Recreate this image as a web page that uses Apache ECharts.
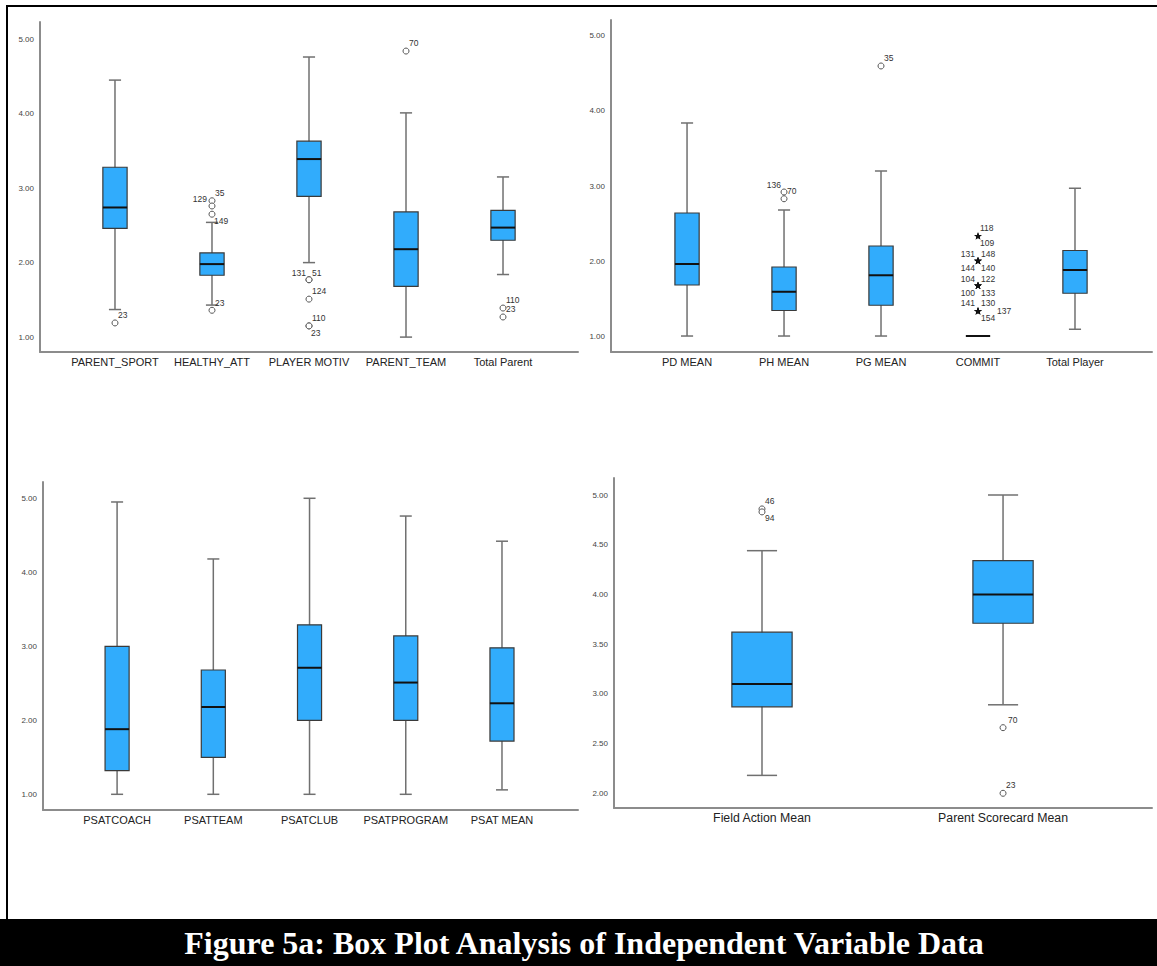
<!DOCTYPE html>
<html>
<head>
<meta charset="utf-8">
<title>Figure 5a: Box Plot Analysis of Independent Variable Data</title>
<script src="https://cdn.jsdelivr.net/npm/echarts@6/dist/echarts.min.js"></script>
<style>
  html, body { margin: 0; padding: 0; background: #ffffff; }
  #chart { width: 1157px; height: 966px; }
</style>
</head>
<body>
<div id="chart"></div>
<script>
// Box values are [lower whisker, Q1, median, Q3, upper whisker].
// Outliers are [category index, value, case id].

// Parent scales
const parentCats = ['PARENT_SPORT', 'HEALTHY_ATT', 'PLAYER MOTIV', 'PARENT_TEAM', 'Total Parent'];
const parentBoxes = [
  [1.37, 2.46, 2.74, 3.28, 4.45],
  [1.43, 1.83, 1.98, 2.13, 2.54],
  [2.00, 2.89, 3.39, 3.63, 4.76],
  [1.00, 1.68, 2.18, 2.68, 4.01],
  [1.84, 2.30, 2.47, 2.70, 3.15]
];
const parentOutliers = [
  [0, 1.19, '23'],
  [1, 2.83, '35'], [1, 2.76, '129'], [1, 2.65, '149'], [1, 1.36, '23'],
  [2, 1.77, '131'], [2, 1.77, '51'], [2, 1.51, '124'], [2, 1.15, '110'], [2, 1.15, '23'],
  [3, 4.84, '70'],
  [4, 1.39, '110'], [4, 1.27, '23']
];

// Player scales
const playerCats = ['PD MEAN', 'PH MEAN', 'PG MEAN', 'COMMIT', 'Total Player'];
const playerBoxes = [
  [1.00, 1.68, 1.96, 2.64, 3.84],
  [1.00, 1.34, 1.59, 1.92, 2.68],
  [1.00, 1.41, 1.81, 2.20, 3.20],
  [1.00, 1.00, 1.00, 1.00, 1.00],
  [1.09, 1.57, 1.88, 2.14, 2.97]
];
const playerOutliers = [
  [1, 2.92, '136'], [1, 2.83, '70'],
  [2, 4.60, '35']
];
const playerExtremes = [
  [3, 2.33, '118'], [3, 2.33, '109'],
  [3, 2.00, '131'], [3, 2.00, '148'], [3, 2.00, '144'], [3, 2.00, '140'],
  [3, 1.67, '104'], [3, 1.67, '122'], [3, 1.67, '100'], [3, 1.67, '133'],
  [3, 1.33, '141'], [3, 1.33, '130'], [3, 1.33, '137'], [3, 1.33, '154']
];

// Satisfaction scales
const psatCats = ['PSATCOACH', 'PSATTEAM', 'PSATCLUB', 'PSATPROGRAM', 'PSAT MEAN'];
const psatBoxes = [
  [1.00, 1.32, 1.88, 3.00, 4.95],
  [1.00, 1.50, 2.18, 2.68, 4.18],
  [1.00, 2.00, 2.71, 3.29, 5.00],
  [1.00, 2.00, 2.51, 3.14, 4.76],
  [1.06, 1.72, 2.23, 2.98, 4.42]
];

// Field action / scorecard means
const meanCats = ['Field Action Mean', 'Parent Scorecard Mean'];
const meanBoxes = [
  [2.18, 2.87, 3.10, 3.62, 4.44],
  [2.89, 3.71, 4.00, 4.34, 5.00]
];
const meanOutliers = [
  [0, 4.86, '46'], [0, 4.83, '94'],
  [1, 2.66, '70'], [1, 2.00, '23']
];

// Tick values
const ticksWhole = [1, 2, 3, 4, 5];
const ticksHalf = [2, 2.5, 3, 3.5, 4, 4.5, 5];

// ---- layout ----
const panels = [
  { cats: parentCats, boxes: parentBoxes, outliers: parentOutliers, extremes: [], ticks: ticksWhole, catFont: 11,
    grid: { left: 40, top: 22, width: 538, height: 330 }, xr: [-0.773, 4.773], yr: [0.80, 5.23] },
  { cats: playerCats, boxes: playerBoxes, outliers: playerOutliers, extremes: playerExtremes, ticks: ticksWhole, catFont: 11,
    grid: { left: 611, top: 20, width: 541, height: 332 }, xr: [-0.784, 4.794], yr: [0.787, 5.213] },
  { cats: psatCats, boxes: psatBoxes, outliers: [], extremes: [], ticks: ticksWhole, catFont: 11,
    grid: { left: 43, top: 482, width: 535, height: 328 }, xr: [-0.77, 4.79], yr: [0.788, 5.22] },
  { cats: meanCats, boxes: meanBoxes, outliers: meanOutliers, extremes: [], ticks: ticksHalf, catFont: 12.3,
    grid: { left: 614, top: 478, width: 538, height: 330 }, xr: [-0.614, 1.618], yr: [1.852, 5.171] }
];

// Case-id label offsets from the marker centre: [dx, dy, align]
const DEFAULT_SPOT = [3, -8, 'left'];
const labelSpots = [
  { '1:129': [-5, -7, 'right'], '1:149': [2, 7, 'left'], '1:23': [3, -7, 'left'],
    '2:131': [-3, -7, 'right'], '2:51': [3, -7, 'left'], '2:23': [2, 7, 'left'] },
  { '1:136': [-3, -7, 'right'],
    '3:118': [2, -8, 'left'], '3:109': [2, 7, 'left'],
    '3:131': [-3, -7, 'right'], '3:148': [3, -7, 'left'], '3:144': [-3, 7, 'right'], '3:140': [3, 7, 'left'],
    '3:104': [-3, -7, 'right'], '3:122': [3, -7, 'left'], '3:100': [-3, 7, 'right'], '3:133': [3, 7, 'left'],
    '3:141': [-3, -8, 'right'], '3:130': [3, -8, 'left'], '3:137': [19, 0, 'left'], '3:154': [3, 7, 'left'] },
  {},
  { '0:46': [3, -8, 'left'], '0:94': [3, 6, 'left'], '1:70': [5, -8, 'left'] }
];

const BOX_FILL = '#31acfc';
const BOX_EDGE = '#3a3a3a';
const WHISKER = '#707070';
const AXIS = '#8c8c8c';
const SANS = '"Liberation Sans", Arial, Helvetica, sans-serif';

function boxRenderer(params, api) {
  const x = api.value(0);
  const lo = api.coord([x, api.value(1)]);
  const q1 = api.coord([x, api.value(2)]);
  const md = api.coord([x, api.value(3)]);
  const q3 = api.coord([x, api.value(4)]);
  const hi = api.coord([x, api.value(5)]);
  const band = api.size([1, 0])[0];
  const bw = band * 0.25;
  const cw = band * 0.125;
  const cx = lo[0];
  return {
    type: 'group',
    children: [
      { type: 'line', shape: { x1: cx, y1: lo[1], x2: cx, y2: hi[1] }, style: { stroke: WHISKER, lineWidth: 1.5 } },
      { type: 'line', shape: { x1: cx - cw / 2, y1: lo[1], x2: cx + cw / 2, y2: lo[1] }, style: { stroke: WHISKER, lineWidth: 1.5 } },
      { type: 'line', shape: { x1: cx - cw / 2, y1: hi[1], x2: cx + cw / 2, y2: hi[1] }, style: { stroke: WHISKER, lineWidth: 1.5 } },
      { type: 'rect', shape: { x: cx - bw / 2, y: q3[1], width: bw, height: q1[1] - q3[1] },
        style: { fill: BOX_FILL, stroke: BOX_EDGE, lineWidth: 1.2 } },
      { type: 'line', shape: { x1: cx - bw / 2, y1: md[1], x2: cx + bw / 2, y2: md[1] }, style: { stroke: '#111111', lineWidth: 2 } }
    ]
  };
}

function starPoints(cx, cy, R, r) {
  const pts = [];
  for (let i = 0; i < 10; i++) {
    const a = -Math.PI / 2 + i * Math.PI / 5;
    const rad = i % 2 === 0 ? R : r;
    pts.push([cx + rad * Math.cos(a), cy + rad * Math.sin(a)]);
  }
  return pts;
}

function pointRenderer(list, spots, isStar) {
  return function (params, api) {
    const item = list[params.dataIndex];
    const p = api.coord([api.value(0), api.value(1)]);
    const spot = spots[item[0] + ':' + item[2]] || DEFAULT_SPOT;
    const marker = isStar
      ? { type: 'polygon', shape: { points: starPoints(p[0], p[1], 4, 1.7) }, style: { fill: '#111111' } }
      : { type: 'circle', shape: { cx: p[0], cy: p[1], r: 3 }, style: { fill: '#ffffff', stroke: '#555555', lineWidth: 1 } };
    return {
      type: 'group',
      children: [
        marker,
        { type: 'text', x: p[0] + spot[0], y: p[1] + spot[1],
          style: { text: item[2], fill: '#333333', font: '8.5px ' + SANS, align: spot[2], verticalAlign: 'middle' } }
      ]
    };
  };
}

const grids = [], xAxes = [], yAxes = [], series = [];
panels.forEach((pn, i) => {
  grids.push(Object.assign({ containLabel: false }, pn.grid));
  xAxes.push({
    type: 'value', gridIndex: i, min: pn.xr[0], max: pn.xr[1],
    axisLine: { show: true, onZero: false, lineStyle: { color: AXIS, width: 2 } },
    axisTick: { show: false },
    splitLine: { show: false },
    axisLabel: {
      customValues: pn.cats.map((c, k) => k),
      formatter: v => pn.cats[Math.round(v)] || '',
      color: '#222222', fontSize: pn.catFont, fontFamily: SANS, margin: 4
    }
  });
  yAxes.push({
    type: 'value', gridIndex: i, min: pn.yr[0], max: pn.yr[1],
    axisLine: { show: true, onZero: false, lineStyle: { color: AXIS, width: 2 } },
    axisTick: { show: false },
    splitLine: { show: false },
    axisLabel: {
      customValues: pn.ticks,
      formatter: v => v.toFixed(2),
      color: '#444444', fontSize: 8, fontFamily: SANS, margin: 6
    }
  });
  series.push({
    type: 'custom', name: 'box' + i, xAxisIndex: i, yAxisIndex: i,
    renderItem: boxRenderer, encode: { x: 0, y: [1, 2, 3, 4, 5] },
    data: pn.boxes.map((b, k) => [k].concat(b)), silent: true
  });
  if (pn.outliers.length) {
    series.push({
      type: 'custom', name: 'outliers' + i, xAxisIndex: i, yAxisIndex: i,
      renderItem: pointRenderer(pn.outliers, labelSpots[i], false), encode: { x: 0, y: 1 },
      data: pn.outliers.map(o => [o[0], o[1]]), silent: true
    });
  }
  if (pn.extremes.length) {
    series.push({
      type: 'custom', name: 'extremes' + i, xAxisIndex: i, yAxisIndex: i,
      renderItem: pointRenderer(pn.extremes, labelSpots[i], true), encode: { x: 0, y: 1 },
      data: pn.extremes.map(o => [o[0], o[1]]), silent: true
    });
  }
});

const chart = echarts.init(document.getElementById('chart'), null, { renderer: 'svg' });
chart.setOption({
  animation: false,
  backgroundColor: '#ffffff',
  grid: grids,
  xAxis: xAxes,
  yAxis: yAxes,
  series: series,
  graphic: [
    { type: 'line', shape: { x1: 6, y1: 6, x2: 1157, y2: 6 }, style: { stroke: '#000000', lineWidth: 2 } },
    { type: 'line', shape: { x1: 7, y1: 5, x2: 7, y2: 920 }, style: { stroke: '#000000', lineWidth: 2 } },
    { type: 'rect', shape: { x: 0, y: 919, width: 1157, height: 47 }, style: { fill: '#000000' } },
    { type: 'text', x: 584, y: 943,
      style: { text: 'Figure 5a: Box Plot Analysis of Independent Variable Data', fill: '#ffffff',
               font: 'bold 32px "Liberation Serif", "Times New Roman", serif', align: 'center', verticalAlign: 'middle' } }
  ]
});
</script>
</body>
</html>
